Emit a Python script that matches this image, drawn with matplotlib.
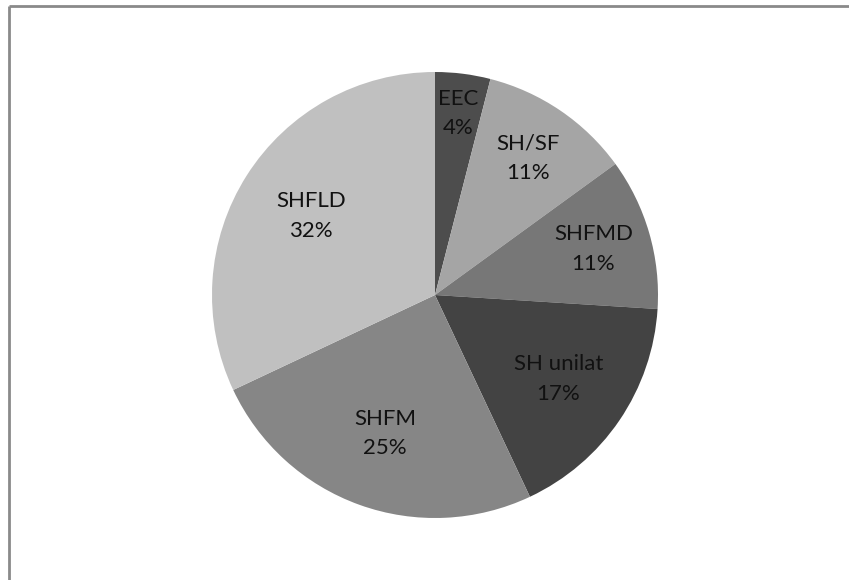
import numpy as np
import matplotlib
matplotlib.use("Agg")
import matplotlib.pyplot as plt
from matplotlib.lines import Line2D

categories = ["EEC", "SH/SF", "SHFMD", "SH unilat", "SHFM", "SHFLD"]
values = [4, 11, 11, 17, 25, 32]
colors = ["#4d4d4d", "#a5a5a5", "#777777", "#434343", "#868686", "#c0c0c0"]
label_radii = [0.82, 0.74, 0.74, 0.67, 0.66, 0.66]

W, H = 849, 580
fig = plt.figure(figsize=(W / 100, H / 100), dpi=100)
fig.patch.set_facecolor("white")

cx, cy, r = 435, 295, 223
ax = fig.add_axes([(cx - r) / W, (H - cy - r) / H, 2 * r / W, 2 * r / H])
wedges, _ = ax.pie(values, colors=colors, startangle=90, counterclock=False,
                   radius=1.0, wedgeprops=dict(linewidth=0))
ax.set_xlim(-1, 1)
ax.set_ylim(-1, 1)
ax.set_aspect("auto")
ax.axis("off")

font = ["Lato", "DejaVu Sans"]
total = sum(values)
for w, cat, v, rr in zip(wedges, categories, values, label_radii):
    ang = np.deg2rad((w.theta1 + w.theta2) / 2)
    x, y = rr * np.cos(ang), rr * np.sin(ang)
    ax.text(x, y, f"{cat}\n{round(100 * v / total)}%", ha="center", va="center",
            fontsize=16, family=font, color="#111111", linespacing=1.6)

# partial frame (top and left edges)
fig.add_artist(Line2D([8.5 / W, 1.0], [1 - 6 / H, 1 - 6 / H], transform=fig.transFigure,
                      color="#8a8a8a", linewidth=2.0, solid_capstyle="butt"))
fig.add_artist(Line2D([8.5 / W, 8.5 / W], [0.0, 1 - 6 / H], transform=fig.transFigure,
                      color="#8a8a8a", linewidth=2.0, solid_capstyle="butt"))

fig.savefig("out.png", dpi=100, facecolor="white")
